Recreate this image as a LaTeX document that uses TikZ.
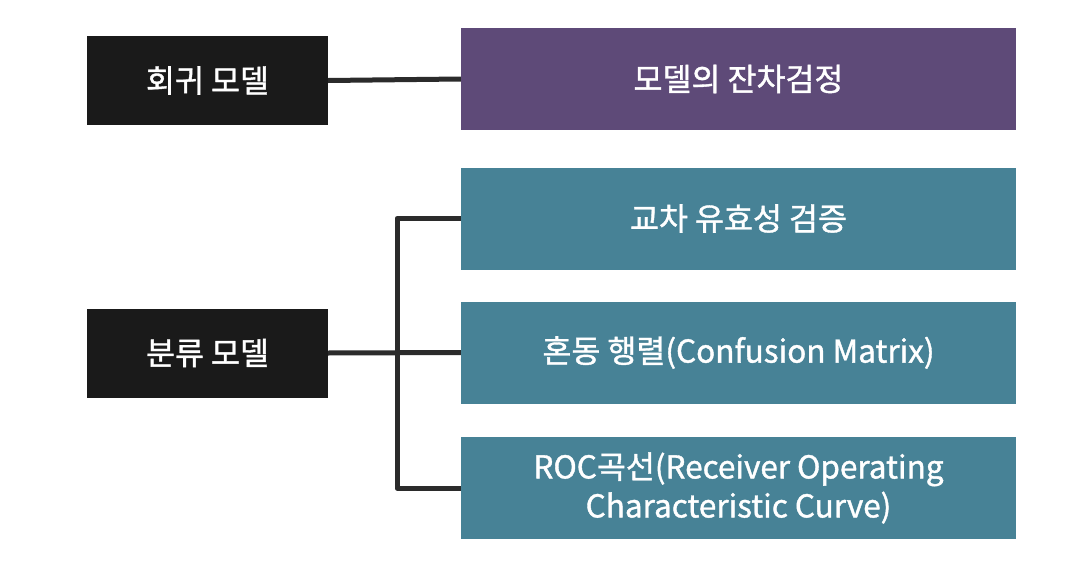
\documentclass[tikz,border=0pt]{standalone}
\usepackage{fontspec}
\setmainfont{Noto Sans CJK KR}
\newfontfamily\boxfont{Noto Sans CJK KR}[FakeBold=1.2]
\definecolor{boxblack}{HTML}{1A1A1A}
\definecolor{boxpurple}{HTML}{5E4A78}
\definecolor{boxteal}{HTML}{478296}
\definecolor{linegray}{HTML}{2B2B2B}
\begin{document}
\begin{tikzpicture}[x=1pt,y=-1pt,
  box/.style={draw=none,inner sep=0pt,text=white,font=\boxfont\fontsize{31.5}{39}\selectfont,align=center},
  blackbox/.style={box,fill=boxblack,minimum width=241pt,minimum height=89pt},
  rightbox/.style={box,minimum width=555pt,minimum height=102pt},
  conn/.style={draw=linegray,line width=5pt,line join=round}]
\useasboundingbox[fill=white] (0,0) rectangle (1082,570);
\node[blackbox] (reg) at (207.5,80.5) {회귀 모델};
\node[blackbox] (cls) at (207.5,353) {분류 모델};
\node[rightbox,fill=boxpurple] (res) at (738.5,79) {모델의 잔차검정};
\node[rightbox,fill=boxteal] (cv) at (738.5,218.5) {교차 유효성 검증};
\node[rightbox,fill=boxteal] (cm) at (738.5,352.5) {혼동 행렬(Confusion Matrix)};
\node[rightbox,fill=boxteal] (roc) at (738.5,488) {ROC곡선(Receiver Operating\\Characteristic Curve)};
\coordinate (j) at (397,352.5);
\draw[conn] (reg.east) -- (res.west);
\draw[conn] (cls.east) -- (cm.west);
\draw[conn] (cv.west) -| (j) |- (roc.west);
\end{tikzpicture}
\end{document}
